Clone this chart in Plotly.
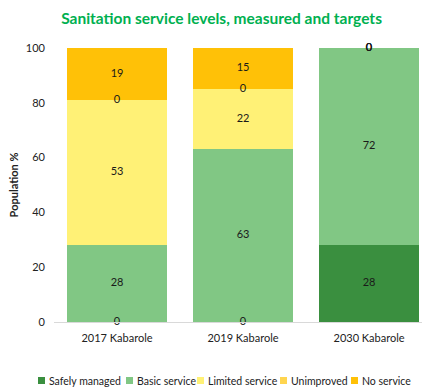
import plotly.graph_objects as go

categories = ["2017 Kabarole", "2019 Kabarole", "2030 Kabarole"]
series_names = ["Safely managed", "Basic service", "Limited service", "Unimproved", "No service"]
safely_managed = [0, 0, 28]
basic_service = [28, 63, 72]
limited_service = [53, 22, 0]
unimproved = [0, 0, 0]
no_service = [19, 15, 0]
colors = ["#3A8F3F", "#81C784", "#FFF176", "#FFD54F", "#FFC107"]

series = [safely_managed, basic_service, limited_service, unimproved, no_service]

W, H = 422, 387
ML, MR, MT, MB = 54, 0, 48, 65
PW, PH = W - ML - MR, H - MT - MB

fig = go.Figure()
for name, vals, col in zip(series_names, series, colors):
    fig.add_trace(go.Bar(
        x=categories, y=vals, name=name,
        marker=dict(color=col, line=dict(width=0)),
        hoverinfo="skip", showlegend=False,
    ))

# value labels at the middle of each stacked segment (zeros included)
base = [0, 0, 0]
lx, ly, lt = [], [], []
for vals in series:
    for i, v in enumerate(vals):
        lx.append(categories[i])
        ly.append(base[i] + v / 2)
        lt.append(str(v))
        base[i] += v
fig.add_trace(go.Scatter(
    x=lx, y=ly, text=lt, mode="text",
    textfont=dict(family="Lato, sans-serif", size=11, color="#1a1a1a"),
    showlegend=False, cliponaxis=False, hoverinfo="skip",
))

# legend row below the chart: small square swatch + label
legend_left_px = [38, 126, 197, 280, 351]
legend_y_px = 380.5
sq = 7
ypaper = lambda py: 1 - (py - MT) / PH
xpaper = lambda px: (px - ML) / PW
for name, col, px in zip(series_names, colors, legend_left_px):
    fig.add_shape(
        type="rect", xref="paper", yref="paper",
        x0=xpaper(px), x1=xpaper(px + sq),
        y0=ypaper(legend_y_px + sq / 2), y1=ypaper(legend_y_px - sq / 2),
        fillcolor=col, line=dict(width=0),
    )
    fig.add_annotation(
        text=name, xref="paper", yref="paper",
        x=xpaper(px + sq + 1.5), y=ypaper(legend_y_px),
        xanchor="left", yanchor="middle", showarrow=False,
        font=dict(family="Lato, sans-serif", size=10.5, color="#222"),
    )

fig.update_layout(
    barmode="stack",
    bargap=0.206,
    width=W, height=H,
    margin=dict(l=ML, r=MR, t=MT, b=MB),
    paper_bgcolor="white", plot_bgcolor="white",
    font=dict(family="Lato, sans-serif", size=11, color="#222"),
    showlegend=False,
    title=dict(
        text="<b>Sanitation service levels, measured and targets</b>",
        font=dict(family="Lato, sans-serif", size=15.5, color="#00B050"),
        x=0.525, xanchor="center", xref="container",
        y=1 - 19 / H, yanchor="middle", yref="container",
    ),
    xaxis=dict(
        range=[-0.5, 2.42], showgrid=False, showline=True,
        linecolor="#d9d9d9", linewidth=1, ticks="",
        ticklabelstandoff=6,
        tickfont=dict(size=11, color="#222"),
    ),
    yaxis=dict(
        range=[0, 100], dtick=20, showgrid=False, zeroline=False,
        showline=False, ticks="", ticklabelstandoff=8,
        tickfont=dict(size=11, color="#222"),
        title=dict(text="<b>Population %</b>", font=dict(size=11, color="#222"), standoff=5),
    ),
)

fig.write_html("out.html")
